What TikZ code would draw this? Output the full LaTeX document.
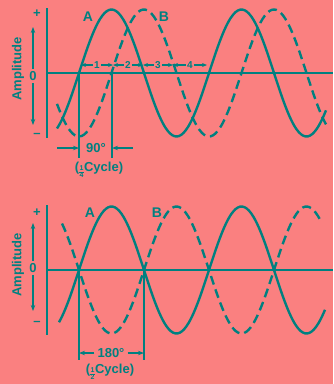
\documentclass[tikz,border=0pt]{standalone}
\usepackage{fontspec}
\setmainfont{Liberation Sans}
\usetikzlibrary{arrows.meta}
\definecolor{paper}{RGB}{250,128,128}
\definecolor{ink}{RGB}{0,128,128}
\tikzstyle{axis} = [ink, line width=2pt]
\tikzstyle{wave} = [ink, line width=2.4pt, smooth]
\tikzstyle{lagwave} = [wave, dash pattern=on 9pt off 5pt]
\tikzstyle{guide} = [ink, line width=1.4pt]
\tikzstyle{dim} = [ink, line width=1.2pt, -{Stealth[length=6pt,width=4.5pt]}]
\tikzstyle{twodim} = [ink, line width=1.2pt, {Stealth[length=5pt,width=4pt]}-{Stealth[length=5pt,width=4pt]}]
\tikzstyle{lbl} = [ink, font=\bfseries\fontsize{13}{13}\selectfont, inner sep=0pt]
\tikzstyle{wavename} = [ink, font=\bfseries\fontsize{14}{14}\selectfont, inner sep=0pt]
\tikzstyle{sign} = [ink, font=\bfseries\fontsize{13}{13}\selectfont, inner sep=0pt]
\tikzstyle{quarter} = [ink, font=\bfseries\fontsize{10}{10}\selectfont, fill=paper, inner sep=1pt]
% small stacked fraction in text font
\newcommand{\stackfrac}[2]{\raisebox{-2.5pt}{\fontsize{7}{7}\selectfont\setlength{\tabcolsep}{0.5pt}\renewcommand{\arraystretch}{0.9}\begin{tabular}{c}#1\\\hline#2\end{tabular}}}

\begin{document}
\begin{tikzpicture}[x=1pt, y=-1pt]
\fill[paper] (0,0) rectangle (333,384);
\useasboundingbox (0,0) rectangle (333,384);
%begin top (90 degrees)
\coordinate (taxtop) at (47,8);
\coordinate (taxbot) at (47,138);
\coordinate (torigin) at (47,73);
\coordinate (tend) at (333,73);
\draw[axis] (taxtop) -- (taxbot);
\draw[axis] (torigin) -- (tend);
\node[sign] (tplus) at (37,14) {+};
\node[sign] (tzero) at (33,76) {0};
\node[sign] (tminus) at (37,135) {--};
\node[lbl, rotate=90] (tamp) at (18,69) {Amplitude};
\coordinate (tup) at (33,27);
\coordinate (tdown) at (33,125);
\draw[dim, shorten <=2pt] (tzero) -- (tup);
\draw[dim, shorten <=2pt] (tzero) -- (tdown);
%waves
\draw[wave] plot[domain=57:326, samples=120] (\x, {73-63.5*sin((\x-79)*2.76923)});
\draw[lagwave] plot[domain=57:326, samples=120] (\x, {73+63.5*cos((\x-79)*2.76923)});
\node[wavename] (ta) at (88,17) {A};
\node[wavename] (tb) at (164,17) {B};
%quarters
\coordinate (tq0) at (81,65);
\coordinate (tq1) at (113,65);
\coordinate (tq2) at (143,65);
\coordinate (tq3) at (173,65);
\coordinate (tq4) at (207,65);
\draw[twodim] (tq0) -- node[quarter] (tn1) {1} (tq1);
\draw[twodim] (tq1) -- node[quarter] (tn2) {2} (tq2);
\draw[twodim] (tq2) -- node[quarter] (tn3) {3} (tq3);
\draw[twodim] (tq3) -- node[quarter] (tn4) {4} (tq4);
%guides
\coordinate (tga) at (79,73);
\coordinate (tgalow) at (79,158);
\coordinate (tgb) at (112,73);
\coordinate (tgblow) at (112,158);
\draw[guide] (tga) -- (tgalow);
\draw[guide] (tgb) -- (tgblow);
\coordinate (tleft) at (57,148);
\coordinate (tright) at (133,148);
\draw[dim] (tleft) -- (tleft -| tga);
\draw[dim] (tright) -- (tright -| tgb);
\node[lbl] (tdeg) at (96,148) {90°};
\node[lbl] (tcyc) at (99,171) {(\stackfrac{1}{4}Cycle)};
%end top
%begin bottom (180 degrees)
\coordinate (baxtop) at (47,205);
\coordinate (baxbot) at (47,335);
\coordinate (borigin) at (47,270);
\coordinate (bend) at (333,270);
\draw[axis] (baxtop) -- (baxbot);
\draw[axis] (borigin) -- (bend);
\node[sign] (bplus) at (37,213) {+};
\node[sign] (bzero) at (33,268) {0};
\node[sign] (bminus) at (37,323) {--};
\node[lbl, rotate=90] (bamp) at (18,265) {Amplitude};
\coordinate (bup) at (33,223);
\coordinate (bdown) at (33,311);
\draw[dim, shorten <=2pt] (bzero) -- (bup);
\draw[dim, shorten <=2pt] (bzero) -- (bdown);
%waves
\draw[wave] plot[domain=59:325, samples=120] (\x, {270-63.5*sin((\x-79)*2.76923)});
\draw[lagwave] plot[domain=62:320, samples=120] (\x, {270+63.5*sin((\x-79)*2.76923)});
\node[wavename] (ba) at (90,213) {A};
\node[wavename] (bb) at (157,213) {B};
%guides
\coordinate (bga) at (79,270);
\coordinate (bgalow) at (79,360);
\coordinate (bgb) at (144,270);
\coordinate (bgblow) at (144,360);
\draw[guide] (bga) -- (bgalow);
\draw[guide] (bgb) -- (bgblow);
\node[lbl] (bdeg) at (111,353) {180°};
\draw[dim, shorten <=3pt] (bdeg.west) -- (bdeg.west -| bga);
\draw[dim, shorten <=3pt] (bdeg.east) -- (bdeg.east -| bgb);
\node[lbl] (bcyc) at (110,373) {(\stackfrac{1}{2}Cycle)};
%end bottom
\end{tikzpicture}
\end{document}
